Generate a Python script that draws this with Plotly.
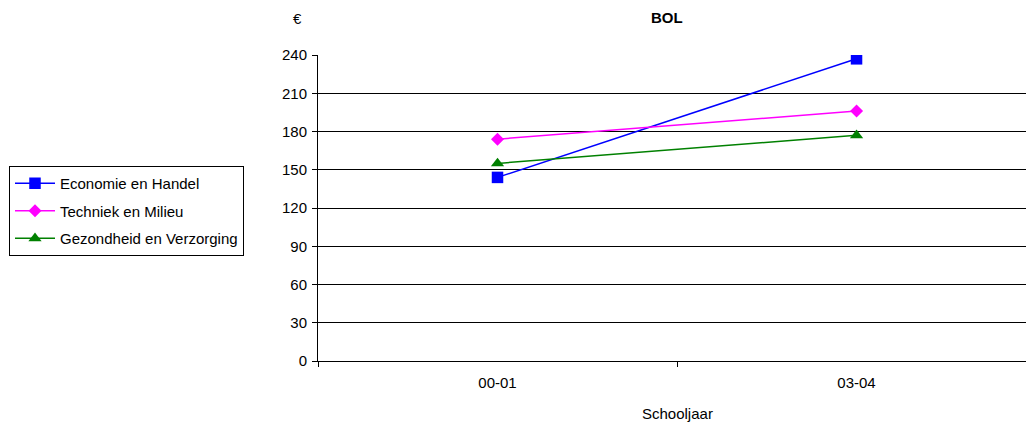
import plotly.graph_objects as go

categories = ["00-01", "03-04"]
economie = [144, 237]
techniek = [174, 196]
gezondheid = [155, 177]
y_ticks = [0, 30, 60, 90, 120, 150, 180, 210, 240]

FONT = "Liberation Sans, Arial, sans-serif"

fig = go.Figure()
fig.add_trace(go.Scatter(x=categories, y=economie, name="Economie en Handel", mode="lines+markers",
                         legendgroup="a",
                         line=dict(color="#0000FF", width=1.5),
                         marker=dict(symbol="square", size=11.5, color="#0000FF")))
fig.add_trace(go.Scatter(x=categories, y=techniek, name="Techniek en Milieu", mode="lines+markers",
                         legendgroup="b",
                         line=dict(color="#FF00FF", width=1.5),
                         marker=dict(symbol="diamond", size=10, color="#FF00FF")))
fig.add_trace(go.Scatter(x=categories, y=gezondheid, name="Gezondheid en Verzorging", mode="lines+markers",
                         legendgroup="c",
                         line=dict(color="#008000", width=1.5),
                         marker=dict(symbol="triangle-up", size=11.5, color="#008000")))

fig.update_layout(
    width=1026, height=423,
    margin=dict(l=318, r=0, t=55, b=62),
    paper_bgcolor="white", plot_bgcolor="white",
    font=dict(family=FONT, size=15, color="black"),
    showlegend=True,
    legend=dict(x=(9 - 318) / 708, y=(361 - 166) / 306, xanchor="left", yanchor="top",
                bordercolor="black", borderwidth=1, bgcolor="white",
                tracegroupgap=5, traceorder="grouped", itemwidth=40,
                font=dict(family=FONT, size=15, color="black")),
    xaxis=dict(type="category", range=[-0.5, 1.472], tickson="boundaries",
               showline=True, linecolor="black", linewidth=1,
               ticks="outside", ticklen=5, tickcolor="black",
               showgrid=False, zeroline=False, ticklabelstandoff=8),
    yaxis=dict(range=[0, 240], tickvals=y_ticks, showline=True, linecolor="black", linewidth=1,
               ticks="outside", ticklen=5, tickcolor="black",
               showgrid=True, gridcolor="black", gridwidth=1, zeroline=False,
               ticklabelstandoff=2),
    annotations=[
        dict(text="<b>BOL</b>", x=(667 - 318) / 708, y=(361 - 17) / 306, xref="paper", yref="paper",
             xanchor="center", yanchor="middle", showarrow=False, font=dict(size=15)),
        dict(text="€", x=(297 - 318) / 708, y=(361 - 19) / 306, xref="paper", yref="paper",
             xanchor="center", yanchor="middle", showarrow=False, font=dict(size=15)),
        dict(text="Schooljaar", x=(677 - 318) / 708, y=(361 - 413) / 306, xref="paper", yref="paper",
             xanchor="center", yanchor="middle", showarrow=False, font=dict(size=15)),
    ],
)

fig.write_html("out.html", config={"displayModeBar": False},
               post_script="document.body.style.margin='0px';")
